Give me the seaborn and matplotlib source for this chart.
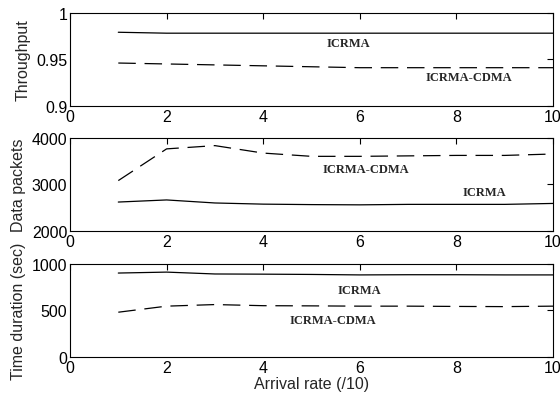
import pandas as pd
import seaborn as sns
import matplotlib
matplotlib.use("Agg")
import matplotlib.pyplot as plt

arrival_rate = [1, 2, 3, 4, 5, 6, 7, 8, 9, 10]

throughput_icrma = [0.979, 0.978, 0.978, 0.978, 0.978, 0.978, 0.978, 0.978, 0.978, 0.978]
throughput_cdma = [0.946, 0.945, 0.944, 0.943, 0.942, 0.941, 0.941, 0.941, 0.941, 0.941]

packets_icrma = [2620, 2665, 2600, 2575, 2565, 2560, 2570, 2570, 2570, 2590]
packets_cdma = [3080, 3760, 3830, 3670, 3600, 3600, 3610, 3620, 3620, 3650]

duration_icrma = [900, 910, 890, 888, 885, 880, 882, 882, 880, 880]
duration_cdma = [480, 545, 562, 550, 548, 545, 545, 542, 540, 545]

panels = [
    ("Throughput", throughput_icrma, throughput_cdma, (0.9, 1.0), [0.9, 0.95, 1.0],
     ["0.9", "0.95", "1"], (5.76, 0.968), (8.26, 0.931)),
    ("Data packets", packets_icrma, packets_cdma, (2000, 4000), [2000, 3000, 4000],
     ["2000", "3000", "4000"], (8.57, 2840), (6.13, 3335)),
    ("Time duration (sec)", duration_icrma, duration_cdma, (0, 1000), [0, 500, 1000],
     ["0", "500", "1000"], (6.0, 723), (5.45, 394)),
]

sns.set_style("white")
plt.rcParams['font.family'] = ['Liberation Sans', 'DejaVu Sans']
plt.rcParams['xtick.direction'] = 'in'
plt.rcParams['ytick.direction'] = 'in'

fig = plt.figure(figsize=(5.6, 4.02), dpi=100)
bottoms = [0.734, 0.423, 0.1095]

for i, (ylab, icrma, cdma, ylim, yticks, yticklabels, pos_a, pos_b) in enumerate(panels):
    ax = fig.add_axes([0.125, bottoms[i], 0.8625, 0.232])
    df = pd.DataFrame({
        'x': arrival_rate * 2,
        'y': icrma + cdma,
        'scheme': ['ICRMA'] * len(icrma) + ['ICRMA-CDMA'] * len(cdma),
    })
    sns.lineplot(data=df, x='x', y='y', style='scheme',
                 dashes={'ICRMA': '', 'ICRMA-CDMA': (14, 7)},
                 color='black', linewidth=0.9, legend=False, ax=ax)
    ax.set_xlim(0, 10)
    ax.set_ylim(*ylim)
    ax.set_xticks([0, 2, 4, 6, 8, 10])
    ax.set_xticklabels(['0', '2', '4', '6', '8', '10'], fontsize=11.5)
    ax.set_yticks(yticks)
    ax.set_yticklabels(yticklabels, fontsize=11.5)
    ax.tick_params(top=True, right=True, length=4, width=0.8, pad=2, colors='black')
    for s in ax.spines.values():
        s.set_color('black')
        s.set_linewidth(0.8)
    ax.set_ylabel(ylab, fontsize=11.5, labelpad=4)
    ax.set_xlabel('Arrival rate (/10)' if i == 2 else '', fontsize=11.5, labelpad=1)
    ax.text(*pos_a, 'ICRMA', family=['Liberation Serif', 'DejaVu Serif'],
            fontweight='bold', fontsize=9, ha='center', va='center')
    ax.text(*pos_b, 'ICRMA-CDMA', family=['Liberation Serif', 'DejaVu Serif'],
            fontweight='bold', fontsize=9, ha='center', va='center')

fig.savefig('out.png', dpi=100, facecolor='white')
